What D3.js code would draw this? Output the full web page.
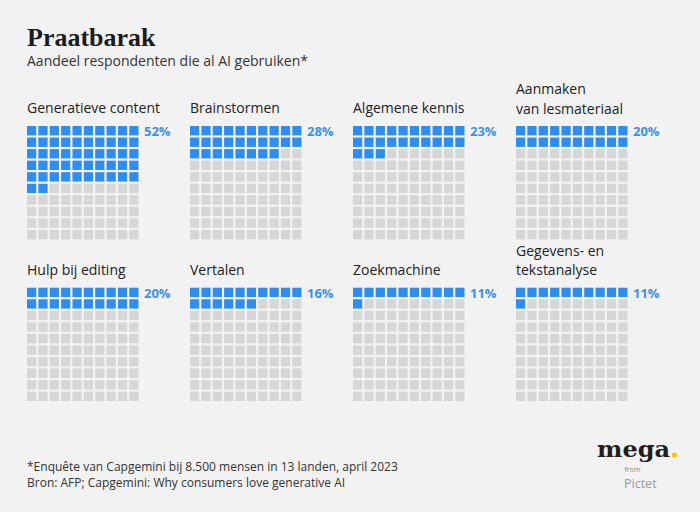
<!DOCTYPE html>
<html>
<head>
<meta charset="utf-8">
<script src="https://cdn.jsdelivr.net/npm/d3@7"></script>
<style>
  html, body { margin: 0; padding: 0; background: #f2f2f2; }
  svg { display: block; }
</style>
</head>
<body>
<svg id="chart" width="700" height="512"></svg>
<script>
// ---- data ----
const categories = [
  ["Generatieve content"],
  ["Brainstormen"],
  ["Algemene kennis"],
  ["Aanmaken", "van lesmateriaal"],
  ["Hulp bij editing"],
  ["Vertalen"],
  ["Zoekmachine"],
  ["Gegevens- en", "tekstanalyse"]
];
const values = [52, 28, 23, 20, 20, 16, 11, 11];
const valueLabels = ["52%", "28%", "23%", "20%", "20%", "16%", "11%", "11%"];
const gridSize = 10; // 10 x 10 waffle

const title = "Praatbarak";
const subtitle = "Aandeel respondenten die al AI gebruiken*";
const footnotes = [
  "*Enquête van Capgemini bij 8.500 mensen in 13 landen, april 2023",
  "Bron: AFP; Capgemini: Why consumers love generative AI"
];

// ---- layout ----
const svg = d3.select("#chart");
const W = 700, H = 512;
svg.append("rect").attr("width", W).attr("height", H).attr("fill", "#f2f2f2");

const blue = "#2f8df0", grey = "#d6d6d6", ink = "#222";
const font = "'Open Sans', sans-serif";

svg.append("text").attr("x", 27).attr("y", 46)
  .attr("font-family", "'Liberation Serif', serif").attr("font-weight", 700)
  .attr("font-size", 26).attr("fill", "#1c1c1c").text(title);
svg.append("text").attr("x", 27).attr("y", 66)
  .attr("font-family", font).attr("font-size", 14).attr("fill", "#333").text(subtitle);

// panel positions
const panelX = d3.scaleLinear().domain([0, 1]).range([27, 190]);
const panelY = d3.scaleLinear().domain([0, 1]).range([126, 287.7]);
const cellX = d3.scaleBand().domain(d3.range(gridSize)).range([0, 111.5]).paddingInner(0.19);
const cellY = d3.scaleBand().domain(d3.range(gridSize)).range([0, 113.3]).paddingInner(0.19);

const panels = svg.selectAll("g.panel")
  .data(values.map((v, i) => ({ v, i, lines: categories[i], label: valueLabels[i] })))
  .join("g")
  .attr("class", "panel")
  .attr("transform", d => `translate(${panelX(d.i % 4)},${panelY(Math.floor(d.i / 4))})`);

panels.each(function(d) {
  const g = d3.select(this);
  const n = d.lines.length;
  const t = g.append("text")
    .attr("class", "cat")
    .attr("font-family", font).attr("font-size", 14).attr("fill", ink);
  t.selectAll("tspan").data(d.lines).join("tspan")
    .attr("x", 0)
    .attr("y", (l, j) => n === 1 ? -13 : -12.3 - (n - 1 - j) * 19.3)
    .text(l => l);

  g.selectAll("rect").data(d3.range(gridSize * gridSize)).join("rect")
    .attr("x", k => cellX(k % gridSize))
    .attr("y", k => cellY(Math.floor(k / gridSize)))
    .attr("width", cellX.bandwidth())
    .attr("height", cellY.bandwidth())
    .attr("fill", k => k < d.v ? blue : grey);

  g.append("text")
    .attr("x", 117).attr("y", 10)
    .attr("font-family", font).attr("font-weight", 700).attr("font-size", 13)
    .attr("fill", "#3c90e8").text(d.label);
});

// footnotes
svg.selectAll("text.foot").data(footnotes).join("text")
  .attr("class", "foot")
  .attr("x", 27).attr("y", (d, i) => 471 + i * 15.5)
  .attr("font-family", font).attr("font-size", 12).attr("fill", "#333")
  .text(d => d);

// logo
const logo = svg.append("g");
logo.append("text").attr("x", 597).attr("y", 457)
  .attr("font-family", "'DejaVu Serif', serif").attr("font-weight", 700)
  .attr("font-size", 22).attr("fill", "#1f1f1f").attr("textLength", 73)
  .attr("lengthAdjust", "spacingAndGlyphs").text("mega");
logo.append("circle").attr("cx", 674.5).attr("cy", 455).attr("r", 2.6).attr("fill", "#f2c500");
logo.append("text").attr("x", 624.5).attr("y", 472)
  .attr("font-family", font).attr("font-size", 7).attr("fill", "#8a8a8a").text("from");
logo.append("text").attr("x", 624).attr("y", 487.5)
  .attr("font-family", font).attr("font-size", 12.5).attr("fill", "#999").text("Pictet");
</script>
</body>
</html>
